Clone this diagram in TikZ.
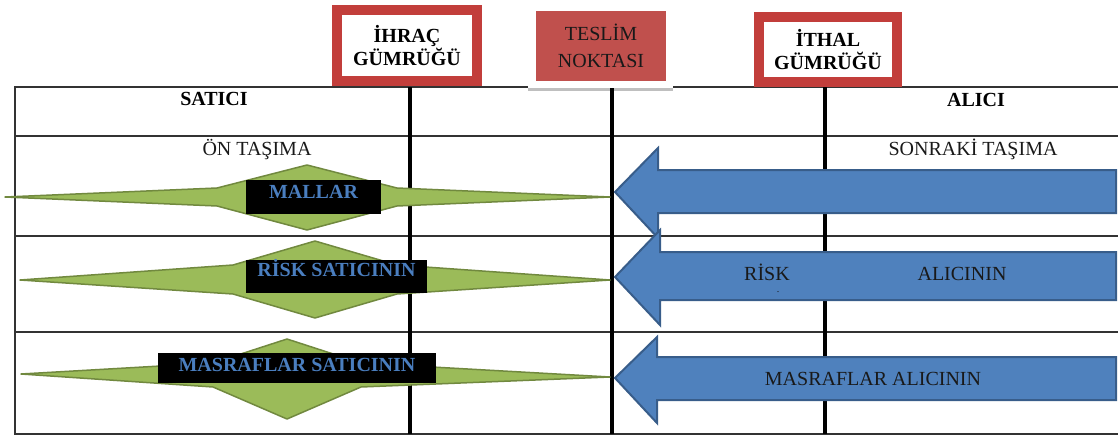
\documentclass[tikz,border=0pt]{standalone}
\usepackage{fontspec}
\setmainfont{Liberation Serif}

\definecolor{boxred}{HTML}{C0504D}
\definecolor{frame}{HTML}{C23E3B}
\definecolor{leafgreen}{HTML}{9BBB59}
\definecolor{leafedge}{HTML}{71893F}
\definecolor{arrowblue}{HTML}{4F81BD}
\definecolor{arrowedge}{HTML}{385D8A}
\definecolor{labelblue}{HTML}{4A7EBF}

\begin{document}
\begin{tikzpicture}[x=1pt, y=-1pt,
    grid/.style={line width=1.4pt, black!80},
    pole/.style={line width=4.5pt},
    customs/.style={draw=frame, line width=10pt, fill=white, inner sep=0pt,
        align=center, font=\bfseries\fontsize{20}{23}\selectfont},
    point/.style={fill=boxred, inner sep=0pt, align=center,
        minimum width=130pt, minimum height=70pt,
        text=black!90, font=\fontsize{20}{27}\selectfont},
    head/.style={anchor=base, font=\bfseries\fontsize{20}{24}\selectfont},
    plain/.style={anchor=base, text=black!90, font=\fontsize{20}{24}\selectfont},
    leaf/.style={fill=leafgreen, draw=leafedge, line width=1.5pt, line join=round},
    tag/.style={fill=black, text=labelblue, inner sep=0pt,
        font=\bfseries\fontsize{20}{24}\selectfont},
    bigarrow/.style={fill=arrowblue, draw=arrowedge, line width=2pt, line join=miter}]

    \useasboundingbox (0,0) rectangle (1118,436);

    % Table frame and rows
    \draw[grid] (528,87) -- (15,87) -- (15,434) -- (1118,434);
    \draw[grid] (673,87) -- (1118,87);
    \foreach \y in {136,236,332}
        \draw[grid] (15,\y) -- (1118,\y);
    \draw[line width=3pt, black!25] (528,89) -- (673,89);

    % Border and delivery poles
    \draw[pole] (410,87) -- (410,434);
    \draw[pole] (612,88) -- (612,434);
    \draw[pole] (825,87) -- (825,434);

    % Boxes on top of the poles
    \node[customs, minimum width=140pt, minimum height=71pt] (ihrac) at (407,45.5)
        {İHRAÇ\\GÜMRÜĞÜ};
    \node[point] (teslim) at (601,46) {TESLİM\\NOKTASI};
    \node[customs, minimum width=138pt, minimum height=65pt] (ithal) at (828,49.5)
        {İTHAL\\GÜMRÜĞÜ};

    % Column heads
    \node[head] (satici) at (214,105) {SATICI};
    \node[head] (alici) at (976,106) {ALICI};
    \node[plain] (ontasima) at (257,155) {ÖN TAŞIMA};
    \node[plain] (sonraki) at (973,155) {SONRAKİ TAŞIMA};

    % Seller side: green spikes up to the delivery point
    \draw[leaf] (5,197) -- (217,188) -- (307,165) -- (397,188) -- (610,197)
        -- (397,206) -- (307,230) -- (217,206) -- cycle;
    \draw[leaf] (20,280) -- (233,265) -- (315,241) -- (397,265) -- (610,280)
        -- (397,294) -- (315,318) -- (233,294) -- cycle;
    \draw[leaf] (21,374) -- (213,363) -- (287,339) -- (361,363) -- (610,377)
        -- (361,387) -- (287,419) -- (213,387) -- cycle;

    \node[tag, minimum width=135pt, text height=18pt, text depth=16pt] (mallar)
        at (313.5,197) {MALLAR};
    \node[tag, minimum width=181pt, text height=16pt, text depth=17pt] (risksat)
        at (336.5,276.5) {RİSK SATICININ};
    \node[tag, minimum width=278pt, text height=18pt, text depth=12pt] (masrafsat)
        at (297,368) {MASRAFLAR\ SATICININ};

    % Buyer side: blue arrows back to the delivery point
    \draw[bigarrow] (615,192) -- (658,148) -- (658,170) -- (1116,170)
        -- (1116,213) -- (658,213) -- (658,238) -- cycle;
    \draw[bigarrow] (615,277) -- (660,230) -- (660,252) -- (1116,252)
        -- (1116,300) -- (660,300) -- (660,325) -- cycle;
    \draw[bigarrow] (615,378) -- (657,337) -- (657,357) -- (1116,357)
        -- (1116,400) -- (657,400) -- (657,423) -- cycle;

    \node[plain] (riskal) at (767,280) {RİSK};
    \node[plain, font=\fontsize{10}{12}\selectfont] (nokta) at (778,292) {.};
    \node[plain] (alicinin) at (962,280) {ALICININ};
    \node[plain] (masrafal) at (873,385) {MASRAFLAR ALICININ};

\end{tikzpicture}
\end{document}
